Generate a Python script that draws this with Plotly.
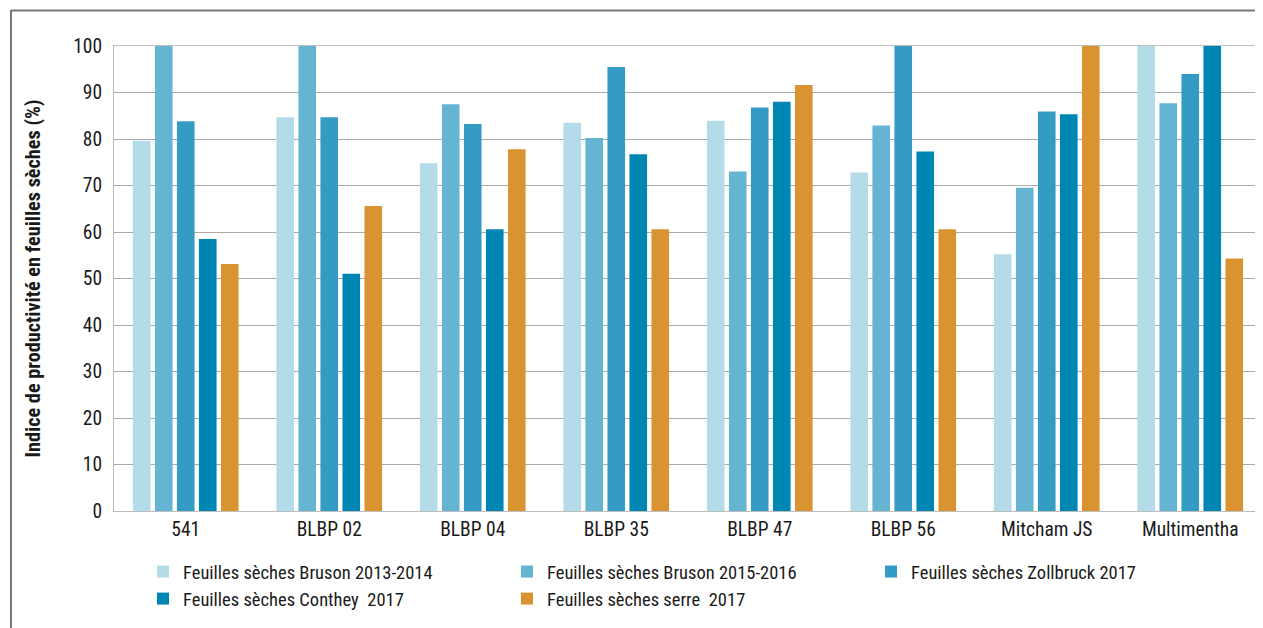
import plotly.graph_objects as go

categories = ["541", "BLBP 02", "BLBP 04", "BLBP 35", "BLBP 47", "BLBP 56", "Mitcham JS", "Multimentha"]

series_names = [
    "Feuilles sèches Bruson 2013-2014",
    "Feuilles sèches Bruson 2015-2016",
    "Feuilles sèches Zollbruck 2017",
    "Feuilles sèches Conthey  2017",
    "Feuilles sèches serre  2017",
]

bruson_2013 = [79.6, 84.7, 74.8, 83.5, 83.9, 72.8, 55.2, 100]
bruson_2015 = [100, 100, 87.5, 80.2, 73.0, 82.9, 69.5, 87.7]
zollbruck_2017 = [83.8, 84.7, 83.2, 95.5, 86.8, 100, 85.9, 94.0]
conthey_2017 = [58.5, 51.0, 60.6, 76.7, 88.0, 77.3, 85.3, 100]
serre_2017 = [53.1, 65.6, 77.8, 60.6, 91.6, 60.6, 100, 54.3]

colors = ["#b4dbe8", "#65b4d2", "#349cc4", "#0086b3", "#d99331"]

y_ticks = [0, 10, 20, 30, 40, 50, 60, 70, 80, 90, 100]

FONT = "Liberation Sans Narrow, Roboto Condensed, Open Sans, sans-serif"

fig = go.Figure()
for name, vals, col in zip(series_names,
                           [bruson_2013, bruson_2015, zollbruck_2017, conthey_2017, serre_2017],
                           colors):
    fig.add_trace(go.Bar(x=categories, y=vals, name=name,
                         marker=dict(color=col, line=dict(width=0))))

# page body has an 8px margin; figure coordinates are page coordinates - 8
OFF = 8
W, H = 1263 - OFF, 628 - OFF
L, T = 114 - OFF, 46 - OFF
pw = 1262 - 114
ph = 511 - 46
R = W - L - pw
B = H - T - ph

fig.update_layout(
    width=W, height=H,
    margin=dict(l=L, r=R, t=T, b=B, pad=0, autoexpand=False),
    barmode="group",
    bargap=0.233,
    bargroupgap=0.2,
    plot_bgcolor="white",
    paper_bgcolor="white",
    font=dict(family=FONT, size=19, color="#1a1a1a"),
    showlegend=True,
    legend=dict(
        orientation="h",
        x=(143 - 114) / pw, xanchor="left",
        y=-(553 - 511) / ph, yanchor="top",
        entrywidth=319,
        entrywidthmode="pixels",
        font=dict(family=FONT, size=18.5, color="#1a1a1a"),
        itemwidth=30,
        tracegroupgap=0,
        bgcolor="rgba(0,0,0,0)",
    ),
    xaxis=dict(
        automargin=False,
        showgrid=False,
        showline=True, linecolor="#bdbdbd", linewidth=1, mirror=True,
        ticks="", tickfont=dict(family=FONT, size=19.5, color="#1a1a1a"),
        ticklabelstandoff=1,
    ),
    yaxis=dict(
        automargin=False,
        range=[0, 100],
        tickvals=y_ticks,
        showgrid=True, gridcolor="#aaaaaa", gridwidth=1,
        showline=True, linecolor="#bdbdbd", linewidth=1, mirror=True,
        zeroline=False,
        ticks="", tickfont=dict(family=FONT, size=19.5, color="#1a1a1a"),
        ticklabelstandoff=7,
        title=dict(text="<b>Indice de productivité en feuilles sèches (%)</b>",
                   font=dict(family=FONT, size=20.3, color="#1a1a1a"),
                   standoff=27),
    ),
    shapes=[
        dict(type="line", xref="paper", yref="paper",
             x0=(11 - 114) / pw, x1=(11 - 114) / pw,
             y0=1 + (46 - 10) / ph, y1=-(700 - 511) / ph,
             line=dict(color="#777777", width=2)),
        dict(type="line", xref="paper", yref="paper",
             x0=(11 - 114) / pw, x1=1 + 10 / pw,
             y0=1 + (46 - 10.5) / ph, y1=1 + (46 - 10.5) / ph,
             line=dict(color="#777777", width=2)),
    ],
)

fig.write_html("out.html")
